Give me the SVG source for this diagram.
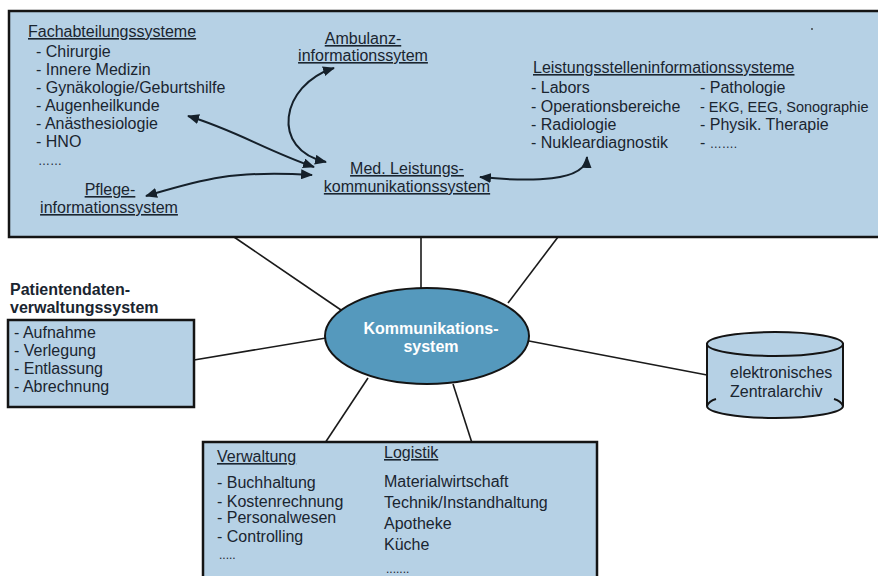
<svg xmlns="http://www.w3.org/2000/svg" width="878" height="576" viewBox="0 0 878 576">
  <defs>
    <marker id="arrow" viewBox="0 0 12 10" refX="11" refY="5" markerWidth="12" markerHeight="10" markerUnits="userSpaceOnUse" orient="auto-start-reverse">
      <path d="M0,0 L12,5 L0,10 Z" fill="#15202a"/>
    </marker>
    <style>
      text { font-family: "Liberation Sans", Arial, sans-serif; font-size: 16px; fill: #1a2530; }
      .ul { text-decoration: underline; }
      .bold { font-weight: bold; }
      .box { fill: #b6d1e5; stroke: #141414; stroke-width: 2.5; }
      .link { fill: none; stroke: #1a1a1a; stroke-width: 1.6; }
      .arr { fill: none; stroke: #15202a; stroke-width: 2; marker-start: url(#arrow); marker-end: url(#arrow); }
      .mid { text-anchor: middle; }
    </style>
  </defs>

  <rect width="878" height="576" fill="#ffffff"/>

  <!-- hub connectors -->
  <g id="connectors">
    <line class="link" x1="234" y1="237" x2="341" y2="310"/>
    <line class="link" x1="421" y1="237" x2="421" y2="288"/>
    <line class="link" x1="558" y1="237" x2="508" y2="303"/>
    <line class="link" x1="194" y1="360" x2="326" y2="338"/>
    <line class="link" x1="529" y1="341" x2="707" y2="375"/>
    <line class="link" x1="368" y1="378" x2="325" y2="443"/>
    <line class="link" x1="453" y1="384" x2="472" y2="443"/>
  </g>

  <!-- clinical systems -->
  <g id="klinik">
    <rect class="box" x="9" y="11" width="880" height="226"/>
    <circle cx="812" cy="29" r="0.9" fill="#333"/>
    <text class="ul" x="28" y="37">Fachabteilungssysteme</text>
    <text x="36" y="57">- Chirurgie</text>
    <text x="36" y="75">- Innere Medizin</text>
    <text x="36" y="93">- Gynäkologie/Geburtshilfe</text>
    <text x="36" y="111">- Augenheilkunde</text>
    <text x="36" y="129">- Anästhesiologie</text>
    <text x="36" y="147">- HNO</text>
    <text x="38" y="165" style="font-size:12px">……</text>

    <text class="ul mid" x="363" y="44">Ambulanz-</text>
    <text class="ul mid" x="363" y="61">informationssytem</text>

    <text class="ul mid" x="110" y="195">Pflege-</text>
    <text class="ul mid" x="109" y="213">informationssystem</text>

    <text class="ul mid" x="407" y="174">Med. Leistungs-</text>
    <text class="ul mid" x="407" y="192">kommunikationssystem</text>

    <text class="ul" x="533" y="73">Leistungsstelleninformationssysteme</text>
    <text x="531" y="93">- Labors</text>
    <text x="531" y="112">- Operationsbereiche</text>
    <text x="531" y="130">- Radiologie</text>
    <text x="531" y="148">- Nukleardiagnostik</text>
    <text x="700" y="93">- Pathologie</text>
    <text x="700" y="112" style="font-size:14.5px">- EKG, EEG, Sonographie</text>
    <text x="700" y="130">- Physik. Therapie</text>
    <text x="700" y="148">- <tspan style="font-size:12px">…….</tspan></text>

    <path class="arr" d="M188,116 C235,130 265,150 314,167"/>
    <path class="arr" d="M326,162 C270,150 280,85 334,68"/>
    <path class="arr" d="M146,196 C200,180 230,170 312,175"/>
    <path class="arr" d="M480,177 C530,182 586,182 587,157"/>
  </g>

  <!-- central hub -->
  <g id="kommunikationssystem">
    <ellipse cx="427" cy="336" rx="102" ry="48" fill="#5599bd" stroke="#141414" stroke-width="2"/>
    <text class="bold mid" x="431" y="334" style="fill:#ffffff">Kommunikations-</text>
    <text class="bold mid" x="431" y="352" style="fill:#ffffff">system</text>
  </g>

  <!-- patient data administration -->
  <g id="patientendaten">
    <text class="bold" x="10" y="295">Patientendaten-</text>
    <text class="bold" x="10" y="313">verwaltungssystem</text>
    <rect class="box" x="8" y="320" width="186" height="87"/>
    <text x="14" y="338">- Aufnahme</text>
    <text x="14" y="356">- Verlegung</text>
    <text x="14" y="374">- Entlassung</text>
    <text x="14" y="392">- Abrechnung</text>
  </g>

  <!-- central archive -->
  <g id="zentralarchiv">
    <path d="M707,344 L707,406 A68,12 0 0 0 843,406 L843,344 Z" fill="#b6d1e5" stroke="#141414" stroke-width="2"/>
    <ellipse cx="775" cy="344" rx="68" ry="12" fill="#b6d1e5" stroke="#141414" stroke-width="2"/>
    <path d="M707,406 Q709,401 716,399 M843,406 Q841,401 834,399" fill="none" stroke="#141414" stroke-width="2"/>
    <text x="730" y="378">elektronisches</text>
    <text x="730" y="397">Zentralarchiv</text>
  </g>

  <!-- administration and logistics -->
  <g id="verwaltung">
    <rect class="box" x="203" y="442" width="394" height="150"/>
    <text class="ul" x="217" y="462">Verwaltung</text>
    <text x="217" y="488">- Buchhaltung</text>
    <text x="217" y="507">- Kostenrechnung</text>
    <text x="217" y="523">- Personalwesen</text>
    <text x="217" y="542">- Controlling</text>
    <text x="219" y="559" style="font-size:12px">.....</text>
    <text class="ul" x="384" y="458">Logistik</text>
    <text x="384" y="487">Materialwirtschaft</text>
    <text x="384" y="508">Technik/Instandhaltung</text>
    <text x="384" y="529">Apotheke</text>
    <text x="384" y="550">Küche</text>
    <text x="386" y="573" style="font-size:12px">.......</text>
  </g>
</svg>
